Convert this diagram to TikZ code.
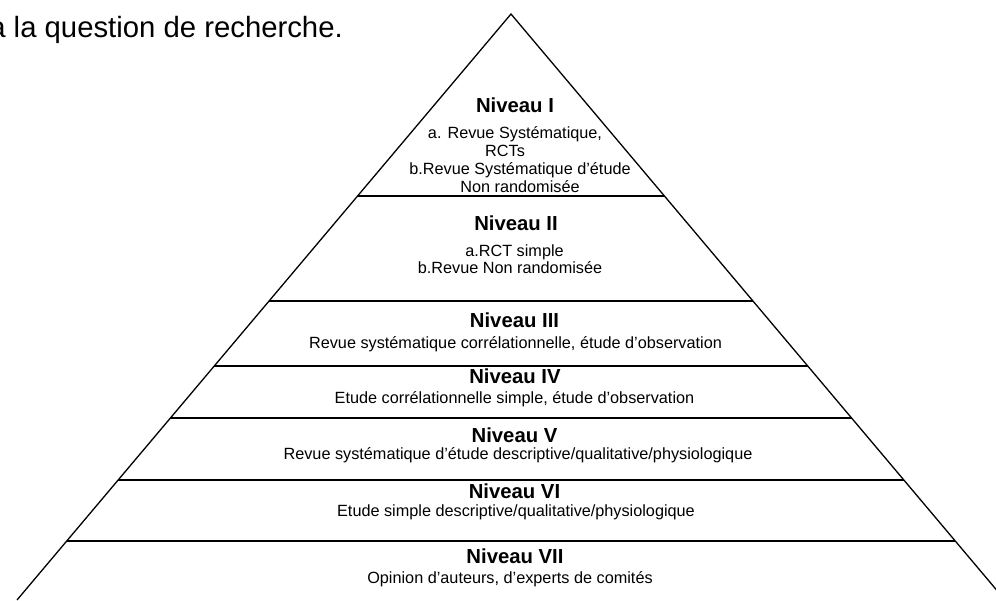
\documentclass[tikz,border=0pt]{standalone}
\usepackage{fontspec}
\setmainfont{Liberation Sans}
\usetikzlibrary{calc}
\begin{document}
\begin{tikzpicture}[x=1pt,y=-1pt,
  side/.style={line width=1.3pt, line join=miter},
  tier/.style={line width=1.5pt},
  title/.style={font=\fontsize{20.3}{22}\selectfont\bfseries, anchor=base, inner sep=0pt},
  body/.style={font=\fontsize{16.25}{18}\selectfont, anchor=base, inner sep=0pt},
  intro/.style={font=\fontsize{29.3}{32}\selectfont, anchor=base east, inner sep=0pt}
]
\useasboundingbox (0,0) rectangle (996,600);
\clip (0,0) rectangle (996,600);
\fill[white] (0,0) rectangle (996,600);

\node[intro] (intro) at (343,37) {à la question de recherche.};

\coordinate (apex) at (511,14);
\coordinate (bl) at (17,600);
\coordinate (br) at (1005,600);
\draw[side] (bl) -- (apex) -- (br);

\foreach \t [count=\i] in {0.3106,0.4898,0.6007,0.6894,0.7952,0.8993}{
  \coordinate (l\i) at ($(apex)!\t!(bl)$);
  \coordinate (r\i) at ($(apex)!\t!(br)$);
  \draw[tier] (l\i) -- (r\i);
}

% Niveau I
\node[title] (t1) at (515,112) {Niveau I};
\node[body] (b1a) at (515,138) {a. Revue Systématique,};
\node[body] (b1b) at (505,156) {RCTs};
\node[body] (b1c) at (520,174) {b.Revue Systématique d’étude};
\node[body] (b1d) at (520,192) {Non randomisée};

% Niveau II
\node[title] (t2) at (516,230) {Niveau II};
\node[body] (b2a) at (514.5,256) {a.RCT simple};
\node[body] (b2b) at (510,273) {b.Revue Non randomisée};

% Niveau III
\node[title] (t3) at (514.5,327) {Niveau III};
\node[body] (b3) at (515.5,348) {Revue systématique corrélationnelle, étude d’observation};

% Niveau IV
\node[title] (t4) at (515,383) {Niveau IV};
\node[body] (b4) at (514.5,403) {Etude corrélationnelle simple, étude d’observation};

% Niveau V
\node[title] (t5) at (514.5,442) {Niveau V};
\node[body] (b5) at (518,459) {Revue systématique d’étude descriptive/qualitative/physiologique};

% Niveau VI
\node[title] (t6) at (514.5,498) {Niveau VI};
\node[body] (b6) at (516,516) {Etude simple descriptive/qualitative/physiologique};

% Niveau VII
\node[title] (t7) at (515,563) {Niveau VII};
\node[body] (b7) at (510,583) {Opinion d’auteurs, d’experts de comités};
\end{tikzpicture}
\end{document}
